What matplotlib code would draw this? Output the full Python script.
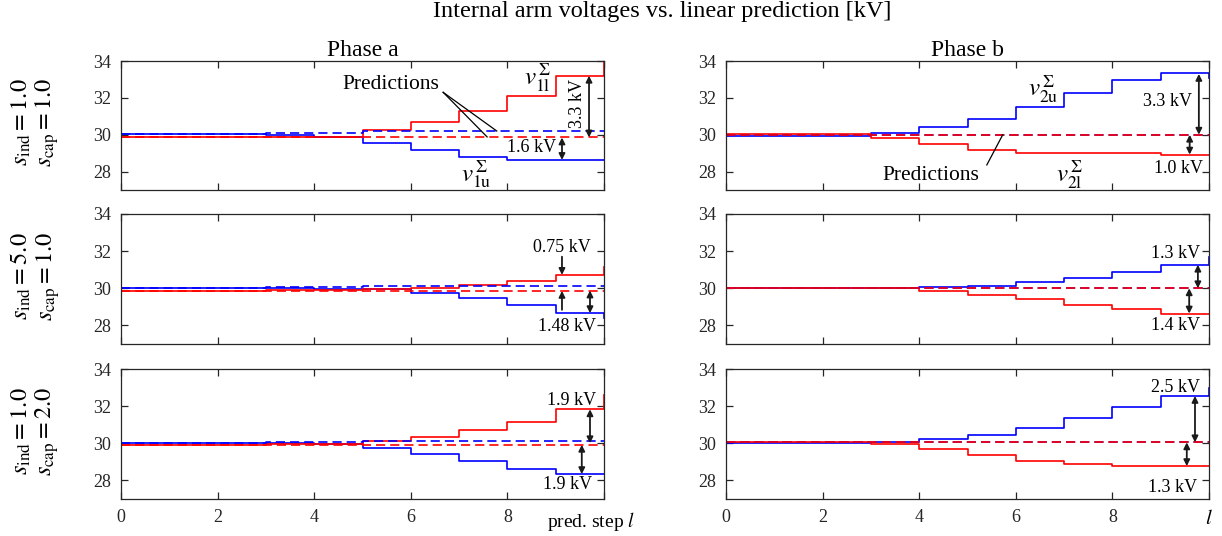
import numpy as np
import matplotlib
matplotlib.use('Agg')
import matplotlib.pyplot as plt

plt.rcParams['font.family'] = ['Liberation Serif', 'DejaVu Serif']
plt.rcParams['mathtext.fontset'] = 'stix'

# prediction step
steps = np.arange(11)

# Phase a, s_ind=1.0 / s_cap=1.0
a1_u = [30.05, 30.05, 30.05, 30.0, 29.85, 29.57, 29.17, 28.81, 28.63, 28.63, 28.63]
a1_l = [29.85, 29.85, 29.85, 29.85, 29.9, 30.26, 30.67, 31.29, 32.1, 33.2, 34.0]
a1_pu = [30.05, 30.05, 30.05, 30.1, 30.1, 30.2, 30.2, 30.2, 30.2, 30.2, 30.2]
a1_pl = [29.85] * 11
# Phase b, s_ind=1.0 / s_cap=1.0
b1_u = [29.95, 29.95, 29.95, 30.1, 30.4, 30.85, 31.49, 32.25, 32.97, 33.33, 33.1]
b1_l = [30.05, 30.05, 30.05, 29.8, 29.48, 29.17, 28.99, 28.99, 29.03, 28.92, 28.92]
b1_pu = [30.0] * 11
b1_pl = [30.0] * 11
# Phase a, s_ind=5.0 / s_cap=1.0
a2_u = [30.0, 30.0, 30.0, 30.0, 29.97, 29.97, 29.77, 29.5, 29.09, 28.66, 28.39]
a2_l = [29.84, 29.86, 29.88, 29.9, 29.9, 29.96, 30.04, 30.18, 30.4, 30.69, 31.15]
a2_pu = [30.0, 30.0, 30.0, 30.05, 30.05, 30.13, 30.13, 30.13, 30.13, 30.13, 30.13]
a2_pl = [29.88] * 11
# Phase b, s_ind=5.0 / s_cap=1.0
b2_u = [30.0, 30.0, 30.0, 30.0, 30.06, 30.15, 30.34, 30.58, 30.9, 31.26, 31.67]
b2_l = [30.03, 30.03, 30.03, 30.0, 29.84, 29.63, 29.41, 29.11, 28.87, 28.64, 28.64]
b2_pu = [30.0] * 11
b2_pl = [30.0] * 11
# Phase a, s_ind=1.0 / s_cap=2.0
a3_u = [30.02, 30.02, 30.02, 30.02, 29.95, 29.77, 29.43, 29.02, 28.61, 28.34, 28.34]
a3_l = [29.93, 29.93, 29.93, 29.95, 29.95, 30.15, 30.36, 30.7, 31.17, 31.83, 32.6]
a3_pu = [30.0, 30.0, 30.0, 30.05, 30.05, 30.15, 30.15, 30.15, 30.15, 30.15, 30.15]
a3_pl = [29.92] * 11
# Phase b, s_ind=1.0 / s_cap=2.0
b3_u = [30.0, 30.0, 30.0, 30.05, 30.24, 30.45, 30.81, 31.35, 31.94, 32.55, 32.96]
b3_l = [30.05, 30.05, 30.05, 29.95, 29.68, 29.38, 29.07, 28.88, 28.77, 28.77, 28.77]
b3_pu = [30.05] * 11
b3_pl = [30.05] * 11

row_labels = ['$s_{\\mathrm{ind}}=1.0$\n$s_{\\mathrm{cap}}=1.0$',
              '$s_{\\mathrm{ind}}=5.0$\n$s_{\\mathrm{cap}}=1.0$',
              '$s_{\\mathrm{ind}}=1.0$\n$s_{\\mathrm{cap}}=2.0$']

panels = [[(a1_u, a1_l, a1_pu, a1_pl), (b1_u, b1_l, b1_pu, b1_pl)],
          [(a2_u, a2_l, a2_pu, a2_pl), (b2_u, b2_l, b2_pu, b2_pl)],
          [(a3_u, a3_l, a3_pu, a3_pl), (b3_u, b3_l, b3_pu, b3_pl)]]

fig = plt.figure(figsize=(12.22, 5.36), dpi=100)
lefts = [121 / 1222, 726 / 1222]
tops = [61, 214, 369]
heights = [129, 130, 130]
axes = []
for r in range(3):
    row = []
    for c in range(2):
        ax = fig.add_axes([lefts[c], 1 - (tops[r] + heights[r]) / 536, 483 / 1222, heights[r] / 536])
        row.append(ax)
    axes.append(row)

edge = '#262626'
for r in range(3):
    for c in range(2):
        ax = axes[r][c]
        vu, vl, pu, pl = panels[r][c]
        ax.step(steps, vu, where='post', color='#0000ff', lw=1.2)
        ax.step(steps, vl, where='post', color='#ff0000', lw=1.2)
        ax.step(steps, pu, where='post', color='#0000ff', lw=1.2, dashes=[5.5, 3])
        ax.step(steps, pl, where='post', color='#ff0000', lw=1.2, dashes=[5.5, 3])
        ax.set_xlim(0, 10)
        ax.set_ylim(27, 34)
        ax.set_yticks([28, 30, 32, 34])
        ax.set_xticks([0, 2, 4, 6, 8, 10])
        ax.tick_params(direction='in', top=True, right=True, length=5, width=0.9,
                       labelsize=13, colors=edge, pad=7)
        for s in ax.spines.values():
            s.set_color(edge)
            s.set_linewidth(0.9)
        if r < 2:
            ax.set_xticklabels([])
        else:
            ax.set_xticklabels(['0', '2', '4', '6', '8', ''])
    fig.text(0.029, 1 - (tops[r] + heights[r] / 2 - 3) / 536, row_labels[r], rotation=90,
             ha='center', va='center', fontsize=17.5, linespacing=1.05)

axes[0][0].set_title('Phase a', fontsize=17, pad=3)
axes[0][1].set_title('Phase b', fontsize=17, pad=3)
fig.text(0.5417, 0.978, 'Internal arm voltages vs. linear prediction [kV]', ha='center',
         va='center', fontsize=17.5)

axes[2][0].annotate('pred. step $l$', xy=(8.82, 0), xycoords=('data', 'axes fraction'),
                    xytext=(0, -8), textcoords='offset points', ha='left', va='top', fontsize=14)
axes[2][1].annotate('$l$', xy=(10, 0), xycoords=('data', 'axes fraction'),
                    xytext=(0, -8), textcoords='offset points', ha='center', va='top', fontsize=15)


def arrow(ax, x, y0, y1, style='<|-|>'):
    ax.annotate('', xy=(x, y1), xytext=(x, y0),
                arrowprops=dict(arrowstyle=style, color='#1a1a1a', lw=1.3,
                                mutation_scale=9, shrinkA=0, shrinkB=0))


def label(ax, x, y, s, **kw):
    ax.text(x, y, s, ha='center', va='center', fontsize=kw.pop('fontsize', 13), **kw)


# phase a, row 1
ax = axes[0][0]
label(ax, 5.59, 32.7, 'Predictions', fontsize=15.5)
ax.plot([6.67, 7.78], [32.3, 30.2], color='k', lw=0.9)
ax.plot([6.67, 7.58], [32.3, 29.88], color='k', lw=0.9)
label(ax, 8.63, 33.1, '$v_{1\\mathrm{l}}^{\\,\\Sigma}$', fontsize=18)
label(ax, 7.35, 27.85, '$v_{1\\mathrm{u}}^{\\,\\Sigma}$', fontsize=18)
label(ax, 9.46, 31.72, '3.3 kV', rotation=90)
arrow(ax, 9.69, 29.85, 33.2)
label(ax, 8.51, 29.28, '1.6 kV')
arrow(ax, 9.13, 29.85, 28.63)

# phase b, row 1
ax = axes[0][1]
label(ax, 6.56, 32.45, '$v_{2\\mathrm{u}}^{\\,\\Sigma}$', fontsize=18)
label(ax, 7.12, 27.85, '$v_{2\\mathrm{l}}^{\\,\\Sigma}$', fontsize=18)
label(ax, 4.24, 27.81, 'Predictions', fontsize=15.5)
ax.plot([5.4, 5.73], [28.36, 30.0], color='k', lw=0.9)
label(ax, 9.15, 31.78, '3.3 kV')
arrow(ax, 9.79, 30.0, 33.3)
label(ax, 9.36, 28.19, '1.0 kV')
arrow(ax, 9.6, 30.0, 28.92)

# phase a, row 2
ax = axes[1][0]
label(ax, 9.13, 32.17, '0.75 kV')
arrow(ax, 9.13, 31.7, 30.72, style='-|>')
arrow(ax, 9.13, 28.84, 29.86, style='-|>')
arrow(ax, 9.71, 29.88, 28.66)
label(ax, 9.23, 27.92, '1.48 kV')

# phase b, row 2
ax = axes[1][1]
label(ax, 9.3, 31.9, '1.3 kV')
arrow(ax, 9.77, 30.0, 31.27)
arrow(ax, 9.59, 30.0, 28.64)
label(ax, 9.3, 27.98, '1.4 kV')

# phase a, row 3
ax = axes[2][0]
label(ax, 9.32, 32.33, '1.9 kV')
arrow(ax, 9.71, 30.0, 31.83)
arrow(ax, 9.54, 29.92, 28.34)
label(ax, 9.25, 27.76, '1.9 kV')

# phase b, row 3
ax = axes[2][1]
label(ax, 9.3, 32.98, '2.5 kV')
arrow(ax, 9.71, 30.05, 32.55)
arrow(ax, 9.54, 30.05, 28.77)
label(ax, 9.24, 27.6, '1.3 kV')

fig.savefig('out.png', dpi=100)
